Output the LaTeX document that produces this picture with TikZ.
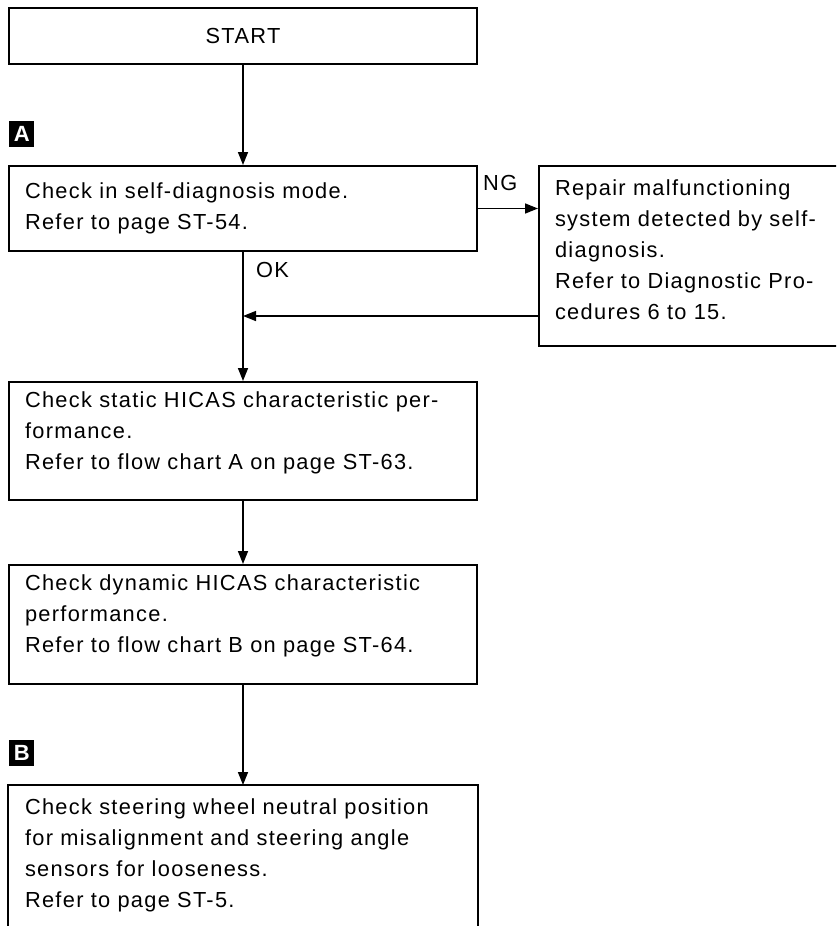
\documentclass[tikz,border=0pt]{standalone}
\usepackage{fontspec}
\setmainfont{Liberation Sans}[LetterSpace=6]
\usetikzlibrary{arrows.meta,positioning}

\begin{document}
\begin{tikzpicture}[x=1pt, y=-1pt,
  box/.style={draw, line width=2pt, align=left, text width=436pt, inner xsep=16pt, font=\fontsize{21.8}{31}\selectfont},
  startbox/.style={box, align=center, minimum height=56pt},
  openbox/.style={box, draw=none, inner ysep=13pt},
  arr/.style={-{Triangle[length=13pt,width=10pt]}, line width=1.5pt},
  tag/.style={fill=black, text=white, minimum width=25pt, minimum height=26pt, inner sep=0pt, font=\bfseries\fontsize{22}{22}\selectfont},
  lbl/.style={inner sep=0pt, font=\fontsize{21.8}{24}\selectfont}
]
  \useasboundingbox (0,0) rectangle (836,926);
  \clip (0,0) rectangle (836,926);

  \node[startbox, anchor=north west] (start) at (8,7) {START};
  \node[box, minimum height=85pt, below=100pt of start] (selfdiag)
    {Check in self-diagnosis mode.\\Refer to page ST-54.};
  \node[box, text width=330pt, minimum height=180pt, right=60pt of selfdiag.north east, anchor=north west] (repair)
    {Repair malfunctioning\\system detected by self-\\diagnosis.\\Refer to Diagnostic Pro-\\cedures 6 to 15.\\[-19pt]\mbox{}};
  \node[box, minimum height=118pt, below=129pt of selfdiag] (static)
    {Check static HICAS characteristic per-\\formance.\\Refer to flow chart A on page ST-63.\\[-10.5pt]\mbox{}};
  \node[box, minimum height=119pt, below=63pt of static] (dynamic)
    {Check dynamic HICAS characteristic\\performance.\\Refer to flow chart B on page ST-64.\\[-8.5pt]\mbox{}};
  \node[openbox, below=100pt of dynamic] (steering)
    {Check steering wheel neutral position\\for misalignment and steering angle\\sensors for looseness.\\Refer to page ST-5.};
  % box cut off at the bottom of the page
  \coordinate (cut) at (0,940);
  \draw[line width=2pt] (steering.north west |- cut) -- (steering.north west)
    -- (steering.north east) -- (steering.north east |- cut);

  \node[tag, anchor=south west] (tagA) at ([xshift=1pt, yshift=18pt]selfdiag.north west) {A};
  \node[tag, anchor=south west] (tagB) at ([xshift=1pt, yshift=19pt]steering.north west) {B};

  \draw[arr] (start) -- (selfdiag);
  \draw[arr] (selfdiag.east) -- (selfdiag.east -| repair.west);
  \node[lbl, anchor=south west] (ng) at ([xshift=5pt, yshift=18pt]selfdiag.east) {NG};
  \draw[arr] (selfdiag) -- (static);
  \node[lbl, anchor=north west] (ok) at ([xshift=13pt, yshift=-10pt]selfdiag.south) {OK};
  \coordinate[below=60pt of repair.west] (back);
  \draw[arr] (back) -- (back -| selfdiag.south);
  \draw[arr] (static) -- (dynamic);
  \draw[arr] (dynamic) -- (steering);
\end{tikzpicture}
\end{document}
